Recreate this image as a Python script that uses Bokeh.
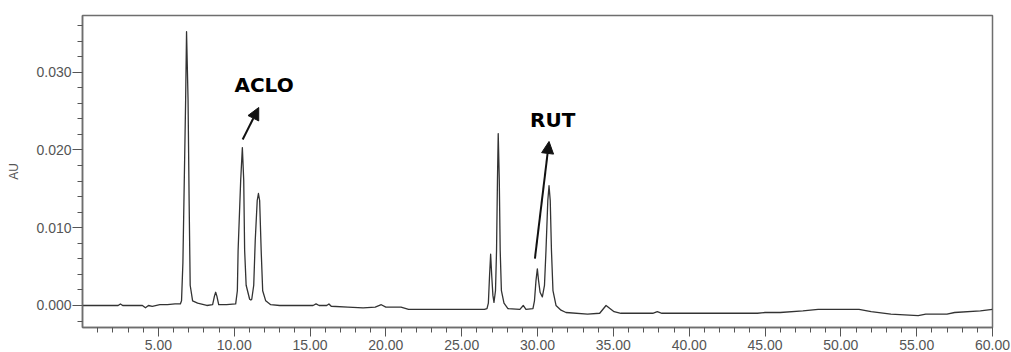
from bokeh.plotting import figure
from bokeh.models import (Range1d, FixedTicker, PrintfTickFormatter, Arrow,
                          NormalHead, ColumnDataSource)
from bokeh.core.properties import value
from bokeh.embed import file_html
from bokeh.resources import INLINE

# Chromatogram trace: retention time (min) and detector response (AU)
time_min = [
    0.00, 2.35, 2.50, 2.65, 3.95, 4.15, 4.35, 4.60, 5.10, 5.60, 6.10, 6.45,
    6.53, 6.62, 6.80, 6.86, 6.96, 7.03, 7.10, 7.26, 7.59, 8.20,
    8.58, 8.70, 8.78, 8.86, 8.98, 9.50,
    10.10, 10.21, 10.26, 10.43, 10.54, 10.63, 10.69, 10.79, 11.02, 11.10,
    11.16, 11.29, 11.39, 11.52, 11.60, 11.68, 11.78, 11.88, 12.08, 12.41,
    13.00, 15.20, 15.40, 15.60, 16.10, 16.25, 16.40, 17.50, 18.50, 19.30,
    19.70, 20.00, 21.00, 21.50, 26.50,
    26.67, 26.76, 26.84, 26.91, 26.98, 27.06, 27.13,
    27.23, 27.30, 27.36, 27.41, 27.48, 27.54, 27.62, 27.79, 28.05,
    28.84, 29.06, 29.24,
    29.70, 29.80, 29.90, 29.99, 30.07, 30.17, 30.32,
    30.46, 30.56, 30.68, 30.76, 30.84, 30.92, 31.02, 31.22, 31.55, 31.88,
    33.30, 34.10, 34.52, 35.05, 35.50, 37.60, 37.90, 38.20, 44.50, 45.00,
    46.00, 47.50, 48.50, 51.20, 52.00, 53.30, 55.10, 55.60, 57.00, 57.50,
    59.20, 60.00,
]
absorbance_au = [
    0.0000, 0.0000, 0.0002, 0.0000, 0.0000, -0.0003, 0.0000, -0.0001, 0.0001, 0.0001, 0.0002, 0.0002,
    0.0006, 0.0055, 0.0264, 0.0352, 0.0264, 0.0135, 0.0026, 0.0006, 0.0003, 0.0000,
    0.0001, 0.0012, 0.0017, 0.0012, 0.0001, 0.0001,
    0.0002, 0.0019, 0.0071, 0.0161, 0.0203, 0.0161, 0.0071, 0.0026, 0.0008, 0.0007,
    0.0008, 0.0026, 0.0084, 0.0135, 0.0144, 0.0135, 0.0071, 0.0019, 0.0006, 0.0001,
    0.0000, 0.0000, 0.0002, 0.0000, 0.0000, 0.0002, -0.0001, -0.0002, -0.0003, -0.0002,
    0.0001, -0.0002, -0.0002, -0.0005, -0.0005,
    -0.0004, 0.0003, 0.0039, 0.0066, 0.0039, 0.0013, 0.0004,
    0.0019, 0.0071, 0.0161, 0.0221, 0.0161, 0.0071, 0.0019, 0.0003, -0.0004,
    -0.0005, 0.0000, -0.0005,
    -0.0004, 0.0006, 0.0032, 0.0047, 0.0032, 0.0017, 0.0011,
    0.0026, 0.0071, 0.0135, 0.0154, 0.0135, 0.0071, 0.0019, 0.0000, -0.0006, -0.0009,
    -0.0011, -0.0010, 0.0000, -0.0008, -0.0010, -0.0010, -0.0008, -0.0010, -0.0010, -0.0009,
    -0.0009, -0.0007, -0.0005, -0.0005, -0.0008, -0.0011, -0.0013, -0.0011, -0.0011, -0.0009,
    -0.0007, -0.0005,
]

# Axis ticks
x_major_ticks = [5, 10, 15, 20, 25, 30, 35, 40, 45, 50, 55, 60]
x_minor_ticks = [t for t in range(1, 60) if t % 5 != 0]
y_major_ticks = [0.0, 0.010, 0.020, 0.030]
y_minor_ticks = [-0.002, 0.002, 0.004, 0.006, 0.008, 0.012, 0.014, 0.016,
                 0.018, 0.022, 0.024, 0.026, 0.028, 0.032, 0.034, 0.036]

# Compound annotations: label anchor and arrow (tail -> head) in data units
label_names = ["ACLO", "RUT"]
label_x = [11.97, 31.00]
label_y = [0.02833, 0.02383]
arrow_x_start = [10.56, 29.83]
arrow_y_start = [0.02134, 0.00604]
arrow_x_end = [11.62, 30.76]
arrow_y_end = [0.02546, 0.02109]

p = figure(width=1011, height=352, output_backend="svg", toolbar_location=None,
           x_range=Range1d(0, 60), y_range=Range1d(-0.00283, 0.03729),
           min_border_left=82, min_border_right=19, min_border_top=15,
           min_border_bottom=25, background_fill_color="white",
           border_fill_color="white")

p.grid.visible = False
p.outline_line_color = "#6e6e6e"
p.outline_line_width = 1.5

# x axis
xa = p.xaxis[0]
xa.ticker = FixedTicker(ticks=x_major_ticks, minor_ticks=x_minor_ticks)
xa.formatter = PrintfTickFormatter(format="%.2f")
xa.major_tick_out = 9
xa.major_tick_in = 0
xa.minor_tick_out = 5
xa.minor_tick_in = 0
xa.major_label_standoff = 3

# y axis
ya = p.yaxis[0]
ya.ticker = FixedTicker(ticks=y_major_ticks, minor_ticks=y_minor_ticks)
ya.formatter = PrintfTickFormatter(format="%.3f")
ya.major_tick_out = 10
ya.major_tick_in = 0
ya.minor_tick_out = 5
ya.minor_tick_in = 0
ya.major_label_standoff = 1
ya.axis_label = "AU"
ya.axis_label_standoff = 12
ya.axis_label_text_font_size = "12px"
ya.axis_label_text_font_style = "normal"
ya.axis_label_text_font = "Liberation Sans"
ya.axis_label_text_color = "#555555"

for ax in (xa, ya):
    ax.axis_line_color = "#6e6e6e"
    ax.axis_line_width = 1.5
    ax.major_tick_line_color = "#555555"
    ax.minor_tick_line_color = "#555555"
    ax.major_label_text_font = "Liberation Sans"
    ax.major_label_text_font_size = "14px"
    ax.major_label_text_color = "#555555"

# the trace
p.line(time_min, absorbance_au, line_color="#333333", line_width=1.3,
       line_join="round")

# compound labels
src = ColumnDataSource(dict(x=label_x, y=label_y, text=label_names))
p.text(x="x", y="y", text="text", source=src, text_font=value("DejaVu Sans"),
       text_font_style="bold", text_font_size="20px", text_color="black",
       text_align="center", text_baseline="alphabetic")

for xs, ys, xe, ye in zip(arrow_x_start, arrow_y_start, arrow_x_end, arrow_y_end):
    p.add_layout(Arrow(x_start=xs, y_start=ys, x_end=xe, y_end=ye,
                       line_color="#111111", line_width=2,
                       end=NormalHead(size=12, fill_color="#111111",
                                      line_color="#111111", line_width=1)))

open("out.html", "w").write(file_html(p, INLINE))
